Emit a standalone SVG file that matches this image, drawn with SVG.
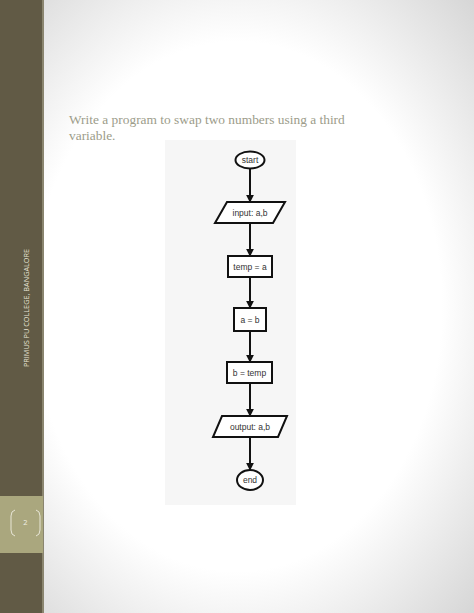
<svg xmlns="http://www.w3.org/2000/svg" width="474" height="613" viewBox="0 0 474 613">
<defs>
<radialGradient id="vig" cx="0.5" cy="0.5" r="0.72">
<stop offset="0.6" stop-color="#ffffff"/>
<stop offset="1" stop-color="#d4d4d4"/>
</radialGradient>
<marker id="arr" viewBox="0 0 10 10" refX="9" refY="5" markerWidth="4" markerHeight="4" orient="auto" markerUnits="strokeWidth">
<path d="M0,0 L10,5 L0,10 z" fill="#111"/>
</marker>
</defs>
<style>
.shape{fill:#ffffff;stroke:#111;stroke-width:2}
.lbl{font-family:"Liberation Sans",Arial,sans-serif;font-size:8.5px;fill:#333;text-anchor:middle}
.conn{stroke:#111;stroke-width:2;fill:none;marker-end:url(#arr)}
.title{font-family:"Liberation Serif","Times New Roman",serif;font-size:13.4px;fill:#9c9c8a}
</style>
<rect x="0" y="0" width="474" height="613" fill="url(#vig)"/>
<rect x="0" y="0" width="42" height="613" fill="#615a45"/>
<rect x="42" y="0" width="2" height="613" fill="#8a856f"/>
<rect x="0" y="496" width="43" height="57" fill="#aaa77e"/>
<text x="28.5" y="308" transform="rotate(-90 28.5 308)" font-family="'Open Sans','Liberation Sans',sans-serif" font-size="7.3" fill="#e6e3d4" text-anchor="middle">PRIMUS PU COLLEGE, BANGALORE</text>
<path d="M15,510 Q11,511 11,516 L11,530 Q11,535 15,536" fill="none" stroke="#e8e6d6" stroke-width="1"/>
<path d="M36,510 Q40,511 40,516 L40,530 Q40,535 36,536" fill="none" stroke="#e8e6d6" stroke-width="1"/>
<text x="25.5" y="525" font-family="'Open Sans','Liberation Sans',sans-serif" font-size="7.5" fill="#f2f0e4" text-anchor="middle">2</text>
<text class="title" x="69" y="124">Write a program to swap two numbers using a third</text>
<text class="title" x="69" y="140">variable.</text>
<rect x="165" y="140" width="131" height="365" fill="#f6f6f6"/>
<g id="connectors">
<line class="conn" x1="250" y1="168" x2="250" y2="202"/>
<line class="conn" x1="250" y1="223" x2="250" y2="256"/>
<line class="conn" x1="250" y1="277" x2="250" y2="308"/>
<line class="conn" x1="250" y1="331" x2="250" y2="362"/>
<line class="conn" x1="250" y1="383" x2="250" y2="416"/>
<line class="conn" x1="250" y1="437" x2="250" y2="470"/>
</g>
<g id="start">
<ellipse class="shape" cx="250" cy="160" rx="14.5" ry="8.5"/>
<text class="lbl" x="250" y="163">start</text>
</g>
<g id="input">
<polygon class="shape" points="227,202 285,202 273,223 215,223"/>
<text class="lbl" x="250" y="215.5">input: a,b</text>
</g>
<g id="temp_a">
<rect class="shape" x="228" y="256" width="44" height="21"/>
<text class="lbl" x="250" y="269.5">temp = a</text>
</g>
<g id="a_b">
<rect class="shape" x="234" y="308" width="32" height="23"/>
<text class="lbl" x="250" y="322.5">a = b</text>
</g>
<g id="b_temp">
<rect class="shape" x="227" y="362" width="45" height="21"/>
<text class="lbl" x="249.5" y="375.5">b = temp</text>
</g>
<g id="output">
<polygon class="shape" points="222,416 287,416 278,437 213,437"/>
<text class="lbl" x="250" y="429.5">output: a,b</text>
</g>
<g id="end">
<ellipse class="shape" cx="250" cy="480" rx="13" ry="10"/>
<text class="lbl" x="250" y="483">end</text>
</g>
</svg>
